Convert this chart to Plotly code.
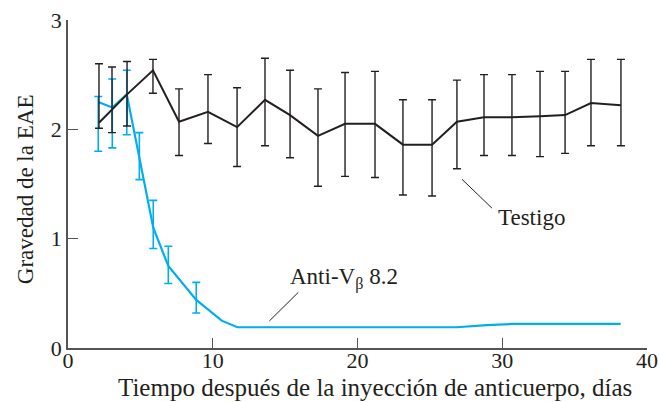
import plotly.graph_objects as go

# Testigo (control) series
days_t = [2.14, 3.04, 4.08, 5.87, 7.67, 9.67, 11.68, 13.61, 15.34, 17.27, 19.14,
          21.21, 23.14, 25.15, 26.87, 28.74, 30.67, 32.61, 34.34, 36.13, 38.20]
vals_t = [2.06, 2.18, 2.32, 2.54, 2.07, 2.16, 2.02, 2.27, 2.13, 1.94, 2.05,
          2.05, 1.86, 1.86, 2.07, 2.11, 2.11, 2.12, 2.13, 2.24, 2.22]
hi_t = [2.60, 2.57, 2.62, 2.64, 2.37, 2.50, 2.38, 2.65, 2.54, 2.37, 2.52,
        2.53, 2.27, 2.27, 2.45, 2.50, 2.50, 2.53, 2.53, 2.64, 2.64]
lo_t = [2.01, 1.97, 2.03, 2.33, 1.76, 1.87, 1.66, 1.85, 1.74, 1.48, 1.57,
        1.56, 1.40, 1.39, 1.64, 1.76, 1.76, 1.75, 1.78, 1.85, 1.85]

# Anti-Vbeta 8.2 series
days_a = [2.09, 3.06, 4.06, 4.93, 5.89, 6.93, 8.86, 10.62, 11.70, 26.85, 28.93, 30.74, 38.18]
vals_a = [2.25, 2.20, 2.32, 1.75, 1.10, 0.75, 0.44, 0.25, 0.19, 0.19, 0.21, 0.22, 0.22]
hi_a = [2.30, 2.46, 2.54, 1.97, 1.35, 0.93, 0.60]
lo_a = [1.80, 1.83, 1.95, 1.54, 0.91, 0.59, 0.32]

x_ticks = [0, 10, 20, 30, 40]
y_ticks = [0, 1, 2, 3]
x_title = "Tiempo después de la inyección de anticuerpo, días"
y_title = "Gravedad de la EAE"

BLACK = "#231f20"
BLUE = "#00aeef"
FONT = "Liberation Serif"

n_a = len(hi_a)
fig = go.Figure()

fig.add_trace(go.Scatter(
    x=days_a, y=vals_a, mode="lines",
    line=dict(color=BLUE, width=2.2), hoverinfo="skip"))
fig.add_trace(go.Scatter(
    x=days_a[:n_a], y=vals_a[:n_a], mode="markers",
    marker=dict(size=1, color=BLUE, opacity=0),
    error_y=dict(type="data", symmetric=False,
                 array=[h - v for h, v in zip(hi_a, vals_a[:n_a])],
                 arrayminus=[v - l for l, v in zip(lo_a, vals_a[:n_a])],
                 color=BLUE, thickness=1.6, width=4)))

fig.add_trace(go.Scatter(
    x=days_t, y=vals_t, mode="lines",
    line=dict(color=BLACK, width=2),
    error_y=dict(type="data", symmetric=False,
                 array=[h - v for h, v in zip(hi_t, vals_t)],
                 arrayminus=[v - l for l, v in zip(lo_t, vals_t)],
                 color=BLACK, thickness=1.4, width=4)))

# leader lines
fig.add_shape(type="line", x0=27.22, y0=1.543, x1=29.29, y1=1.279,
              line=dict(color=BLACK, width=1))
fig.add_shape(type="line", x0=15.91, y0=0.509, x1=13.91, y1=0.247,
              line=dict(color=BLACK, width=1))

fig.add_annotation(x=31.99, y=1.196, text="Testigo", showarrow=False,
                   font=dict(family=FONT, size=23, color=BLACK))
fig.add_annotation(x=19.07, y=0.64, text="Anti-V<sub>β</sub> 8.2", showarrow=False,
                   font=dict(family=FONT, size=23, color=BLACK))

# axis titles
fig.add_annotation(xref="paper", yref="paper", x=0.530, y=-0.119,
                   xanchor="center", yanchor="middle", text=x_title,
                   showarrow=False, font=dict(family=FONT, size=25, color=BLACK))
fig.add_annotation(xref="paper", yref="paper", x=-0.0743, y=0.484,
                   xanchor="center", yanchor="middle", text=y_title, textangle=-90,
                   showarrow=False, font=dict(family=FONT, size=23, color=BLACK))

fig.update_layout(
    width=659, height=402,
    margin=dict(l=68, r=12, t=20, b=54),
    paper_bgcolor="white", plot_bgcolor="white",
    showlegend=False,
    font=dict(family=FONT, size=22, color=BLACK),
    xaxis=dict(range=[0, 40], tickvals=x_ticks, ticks="inside", ticklen=10,
               tickcolor="#555", showline=True, linecolor="#555", linewidth=1.5,
               showgrid=False, zeroline=False, automargin=False,
               tickfont=dict(size=22), ticklabelstandoff=-8,
               ticklabeloverflow="allow"),
    yaxis=dict(range=[0, 3], tickvals=y_ticks, ticks="inside", ticklen=10,
               tickcolor="#555", showline=True, linecolor="#555", linewidth=1.5,
               showgrid=False, zeroline=False, automargin=False,
               tickfont=dict(size=22), ticklabeloverflow="allow"),
)

fig.write_html("out.html",
               config={"displayModeBar": False},
               post_script="document.body.style.margin='0';"
                           "document.body.style.overflow='hidden';")
